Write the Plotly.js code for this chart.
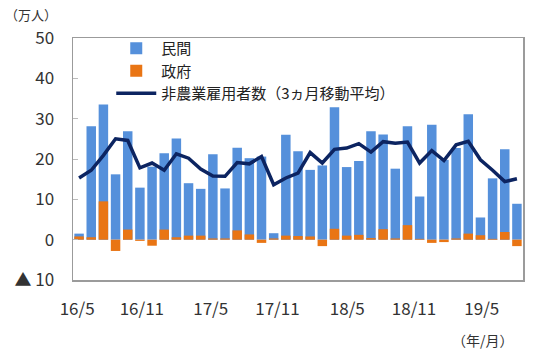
<!DOCTYPE html>
<html>
<head>
<meta charset="utf-8">
<script src="https://cdn.plot.ly/plotly-3.0.1.min.js"></script>
<style>
html,body{margin:0;padding:0;background:#fff;}
#chart{width:560px;height:352px;}
</style>
</head>
<body>
<div id="chart"></div>
<script>
// Months 2016/5 .. 2019/5
const months = ["16/5","16/6","16/7","16/8","16/9","16/10","16/11","16/12","17/1","17/2","17/3","17/4",
  "17/5","17/6","17/7","17/8","17/9","17/10","17/11","17/12","18/1","18/2","18/3","18/4",
  "18/5","18/6","18/7","18/8","18/9","18/10","18/11","18/12","19/1","19/2","19/3","19/4","19/5"];
// 民間 (private), 万人
const privateJobs = [1.5,28.1,33.5,16.2,26.9,12.9,18.1,21.4,25.1,14.0,12.6,21.2,
  12.7,22.8,20.2,20.6,1.6,26.0,21.9,17.3,18.4,32.8,18.0,19.5,
  26.9,26.1,17.6,28.1,10.7,28.5,19.8,22.7,31.1,5.5,15.2,22.4,8.9];
// 政府 (government), 万人
const governmentJobs = [0.8,0.6,9.5,-2.8,2.5,-0.3,-1.5,2.5,0.6,1.0,1.0,0.3,
  0.3,2.3,1.3,-0.8,0.3,1.0,0.9,0.8,-1.6,2.7,1.0,1.2,
  0.4,2.6,0.3,3.6,0.2,-0.8,-0.6,0.3,1.5,1.1,0.2,1.9,-1.6];
// 非農業雇用者数（3ヵ月移動平均）, 万人
const payrollMA3 = [15.3,17.2,20.9,25.0,24.6,17.8,19.0,17.2,21.3,20.2,17.5,15.8,
  15.7,19.1,18.8,20.6,13.6,15.3,16.5,21.6,19.0,22.4,22.7,23.8,
  21.7,24.3,23.9,24.2,19.0,22.1,19.6,23.5,24.4,19.8,17.2,14.4,15.1];
// Tick labels as they appear under the axis
const tickLabels = ["16/5","16/11","17/5","17/11","18/5","18/11","19/5"];
const tickPos = [-0.16,5.16,10.82,16.31,22.05,27.54,33.11];
const yTickVals = [-10,0,10,20,30,40,50];
const yTickText = ["▲ 10","0","10","20","30","40","50"];

const idx = months.map((m,i)=>i);
const font = "'Noto Sans CJK JP', 'Noto Sans', sans-serif";

const traces = [
  {type:"bar", name:"民間", x:idx, y:privateJobs, customdata:months, hovertemplate:"%{customdata}: %{y}<extra></extra>",
   textposition:"none", marker:{color:"#5590DB"}},
  {type:"bar", name:"政府", x:idx, y:governmentJobs, customdata:months, hovertemplate:"%{customdata}: %{y}<extra></extra>",
   textposition:"none", marker:{color:"#E97514"}},
  {type:"scatter", mode:"lines", name:"非農業雇用者数（3ヵ月移動平均）", x:idx, y:payrollMA3,
   customdata:months, hovertemplate:"%{customdata}: %{y}<extra></extra>",
   line:{color:"#0C2461", width:3.5}}
];

const layout = {
  width:560, height:352,
  margin:{l:73, r:37, t:38, b:72},
  paper_bgcolor:"#fff", plot_bgcolor:"#fff",
  barmode:"overlay", bargap:0.22,
  font:{family:font, color:"#333"},
  showlegend:true,
  legend:{x:0.085, y:1.025, xanchor:"left", yanchor:"top", bgcolor:"rgba(0,0,0,0)",
          font:{size:15, color:"#222", family:font}, tracegroupgap:0, itemwidth:40},
  xaxis:{range:[-0.5,36.5], tickmode:"array", tickvals:tickPos, ticktext:tickLabels,
         showgrid:false, zeroline:false, showline:true, mirror:true, linecolor:"#9b9b9b", linewidth:1.5,
         ticks:"", tickfont:{size:17, color:"#333"}, ticklabelstandoff:13},
  yaxis:{range:[-10,50], tickmode:"array", tickvals:yTickVals, ticktext:yTickText,
         showgrid:false, zeroline:false, showline:true, mirror:true, linecolor:"#9b9b9b", linewidth:1.5,
         ticks:"inside", ticklen:5, tickcolor:"#bbb", tickfont:{size:17, color:"#333"}, ticklabelstandoff:14},
  annotations:[
    {xref:"paper", yref:"paper", x:-0.155, y:1.098, xanchor:"left", yanchor:"middle", showarrow:false,
     text:"（万人）", font:{size:13, color:"#333"}},
    {xref:"paper", yref:"paper", x:0.985, y:-0.248, xanchor:"right", yanchor:"middle", showarrow:false,
     text:"（年/月）", font:{size:14, color:"#333"}}
  ]
};

Plotly.newPlot("chart", traces, layout, {displayModeBar:false, staticPlot:true});
</script>
</body>
</html>
